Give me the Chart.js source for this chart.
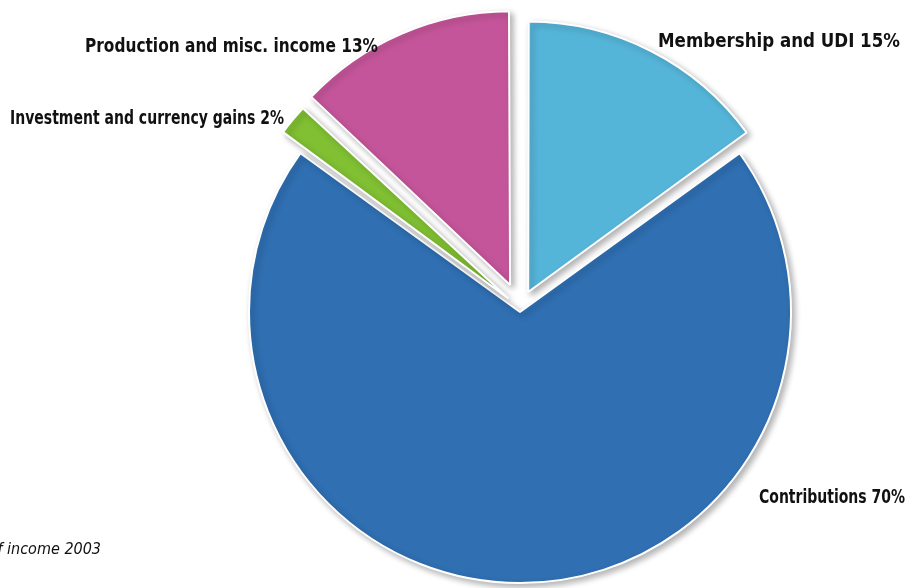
<!DOCTYPE html>
<html>
<head>
<meta charset="utf-8">
<script src="https://cdn.jsdelivr.net/npm/chart.js@4"></script>
<style>
  html, body { margin: 0; padding: 0; background: #fff; }
  #wrap { position: relative; width: 917px; height: 588px; }
</style>
</head>
<body>
<div id="wrap"><canvas id="incomeChart"></canvas></div>
<script>
const categories = [
    'Membership and UDI',
    'Contributions',
    'Investment and currency gains',
    'Production and misc. income'
];
const shares = [15, 70, 2, 13];
const sliceColors = ['#55b5d9', '#2f6fb2', '#80c032', '#c5559a'];
const chartTitle = 'Sources of income 2003';

// where each label sits: left x, baseline y, target width
const labelPos = [
    [658, 47, 242],
    [759, 503, 146],
    [10, 124, 274],
    [85, 52, 293]
];

const shadowPlugin = {
    id: 'sliceShadow',
    beforeDatasetsDraw(chart) {
        const ctx = chart.ctx;
        ctx.save();
        ctx.shadowColor = 'rgba(0, 0, 0, 0.3)';
        ctx.shadowBlur = 6;
        ctx.shadowOffsetX = 3;
        ctx.shadowOffsetY = 3;
    },
    afterDatasetsDraw(chart) {
        chart.ctx.restore();
    }
};

function drawFitted(ctx, text, x, y, width) {
    const w = ctx.measureText(text).width;
    ctx.save();
    ctx.translate(x, y);
    ctx.scale(width / w, 1);
    ctx.fillText(text, 0, 0);
    ctx.restore();
}

const labelPlugin = {
    id: 'sliceLabels',
    afterDraw(chart) {
        const ctx = chart.ctx;
        ctx.save();
        ctx.fillStyle = '#111';
        ctx.textBaseline = 'alphabetic';
        ctx.textAlign = 'left';
        ctx.font = 'bold 20px "Liberation Sans Narrow", "DejaVu Sans Condensed", sans-serif';
        categories.forEach((name, i) => {
            const p = labelPos[i];
            drawFitted(ctx, name + ' ' + shares[i] + '%', p[0], p[1], p[2]);
        });
        ctx.font = 'italic 16px "Liberation Sans Narrow", "DejaVu Sans Condensed", sans-serif';
        ctx.textAlign = 'right';
        ctx.fillText(chartTitle, 101, 554);
        ctx.restore();
    }
};

const ctx = document.getElementById('incomeChart').getContext('2d');
new Chart(ctx, {
    type: 'pie',
    data: {
        labels: categories,
        datasets: [{
            data: shares,
            backgroundColor: sliceColors,
            borderColor: '#ffffff',
            borderWidth: 2,
            offset: [72, 16, 60, 100],
            radius: 267
        }]
    },
    options: {
        responsive: true,
        maintainAspectRatio: false,
        animation: false,
        layout: {
            padding: { left: 123, right: 0, top: 28, bottom: 0 }
        },
        plugins: {
            legend: { display: false },
            tooltip: { enabled: false }
        }
    },
    plugins: [shadowPlugin, labelPlugin]
});
</script>
</body>
</html>
